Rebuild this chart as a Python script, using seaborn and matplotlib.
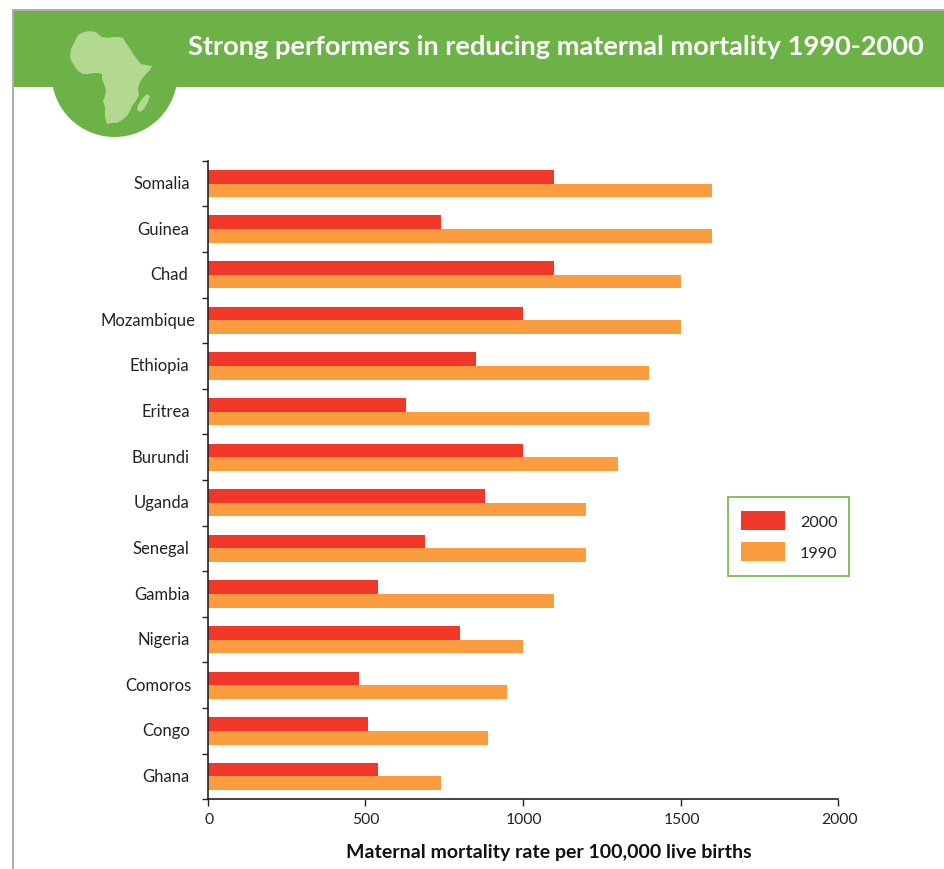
import numpy as np
import pandas as pd
import matplotlib
matplotlib.use("Agg")
import matplotlib.pyplot as plt
from matplotlib.patches import Polygon, Circle, Rectangle
from matplotlib.ticker import FixedLocator
from matplotlib.transforms import ScaledTranslation, Affine2D
import seaborn as sns

countries = ["Somalia", "Guinea", "Chad", "Mozambique", "Ethiopia", "Eritrea", "Burundi",
             "Uganda", "Senegal", "Gambia", "Nigeria", "Comoros", "Congo", "Ghana"]
rate_2000 = [1100, 740, 1100, 1000, 850, 630, 1000, 880, 690, 540, 800, 480, 510, 540]
rate_1990 = [1600, 1600, 1500, 1500, 1400, 1400, 1300, 1200, 1200, 1100, 1000, 950, 890, 740]
x_ticks = [0, 500, 1000, 1500, 2000]

RED = "#f13727"
ORANGE = "#fb9d3e"
GREEN = "#6cb246"
LIGHT_GREEN = "#b3d88f"
W, H = 944, 870

sns.set_theme(style="white")
plt.rcParams["font.family"] = ["Lato", "DejaVu Sans"]

df = pd.DataFrame({
    "country": countries * 2,
    "rate": rate_2000 + rate_1990,
    "year": ["2000"] * len(countries) + ["1990"] * len(countries),
})

fig = plt.figure(figsize=(W / 100, H / 100), dpi=100, facecolor="white")
ax = fig.add_axes([207.7 / W, 1 - 800.3 / H, (838.2 - 207.7) / W, (800.3 - 161.7) / H])

sns.barplot(data=df, y="country", x="rate", hue="year", hue_order=["2000", "1990"],
            palette={"2000": RED, "1990": ORANGE}, width=0.6, gap=0, saturation=1,
            orient="h", ax=ax, linewidth=0, legend=True)

ax.set_xlim(0, 2000)
ax.set_ylim(13.5, -0.5)
ax.set_xticks(x_ticks)
ax.set_ylabel("")
ax.set_xlabel("")
fig.text(549 / W, 1 - 853 / H, "Maternal mortality rate per 100,000 live births",
         fontsize=14, fontweight="bold", color="#111111", ha="center", va="center")

for side in ("top", "right"):
    ax.spines[side].set_visible(False)
for side in ("left", "bottom"):
    ax.spines[side].set_linewidth(1.2)
    ax.spines[side].set_color("#222222")

ax.yaxis.set_minor_locator(FixedLocator(np.arange(-0.5, len(countries))))
ax.tick_params(axis="y", which="major", length=0, pad=13, labelsize=12, labelcolor="#222222")
ax.tick_params(axis="y", which="minor", left=True, length=4, width=1, color="#222222")
ax.tick_params(axis="x", which="major", bottom=True, length=5, width=1, color="#222222",
               pad=4, labelsize=11.3, labelcolor="#222222")

# Long names sit closer to the axis than the rest; the column rides a little above bar centre
nudges = {"Mozambique": 6, "Comoros": 2, "Chad": -2}
for label in ax.get_yticklabels():
    shift = nudges.get(label.get_text(), 0)
    label.set_transform(label.get_transform() +
                        ScaledTranslation(shift / 100, 2 / 100, fig.dpi_scale_trans))
for label in ax.get_xticklabels():
    label.set_transform(label.get_transform() +
                        ScaledTranslation(1 / 100, 0, fig.dpi_scale_trans))

# The legend's frame is a separate rectangle so its padding can differ by side
ax.legend(loc="upper left", bbox_to_anchor=(741 / W, 1 - 512 / H),
          bbox_transform=fig.transFigure, borderaxespad=0, fontsize=11.6,
          title=None, frameon=False, handlelength=2.73, handleheight=1.4,
          handletextpad=0.93, labelspacing=0.8, borderpad=0, labelcolor="#222222")


def px_patch(patch):
    fig.add_artist(patch)
    return patch


# Page edge, header band and the round badge, all laid out in pixel coordinates
to_fig = Affine2D().scale(1 / W, -1 / H).translate(0, 1) + fig.transFigure
px_patch(Rectangle((728, 498), 121, 79, fill=False, edgecolor="#79bb5b", linewidth=1.3,
                   transform=to_fig))
px_patch(Polygon([(13, 870), (13, 11), (944, 11)], closed=False, fill=False,
                 edgecolor="#ababab", linewidth=1.4, transform=to_fig))
px_patch(Rectangle((13.5, 11.5), 930.5, 76, facecolor=GREEN, edgecolor="none", transform=to_fig))
px_patch(Circle((114.5, 75), 63, facecolor=GREEN, edgecolor="none", transform=to_fig))

africa = [(78, 36), (84, 33), (90, 32), (96, 33), (99, 36), (102, 38), (108, 39), (112, 38),
          (118, 38), (123, 39), (126, 44), (129, 48), (133, 55), (137, 60), (141, 65), (146, 66),
          (152, 67), (150, 71), (146, 75), (141, 81), (139, 86), (138, 90), (139, 96), (136, 102),
          (132, 107), (130, 112), (127, 117), (122, 121), (117, 124), (112, 124), (107, 125),
          (105, 118), (105, 108), (103, 102), (105, 97), (106, 91), (104, 85), (102, 80),
          (102, 75), (98, 74), (93, 74), (88, 75), (83, 75), (78, 72), (75, 68), (72, 63),
          (70, 58), (71, 50), (74, 44)]
madagascar = [(147, 95), (150, 97), (148, 103), (144, 110), (140, 113), (137, 111), (138, 106),
              (142, 100)]
for outline in (africa, madagascar):
    px_patch(Polygon(outline, closed=True, facecolor=LIGHT_GREEN, edgecolor="none",
                     joinstyle="round", transform=to_fig))

fig.text(924 / W, 1 - 47 / H, "Strong performers in reducing maternal mortality 1990-2000",
         color="white", fontsize=19.6, fontweight="bold", ha="right", va="center")

fig.savefig("out.png", dpi=100, facecolor="white")
